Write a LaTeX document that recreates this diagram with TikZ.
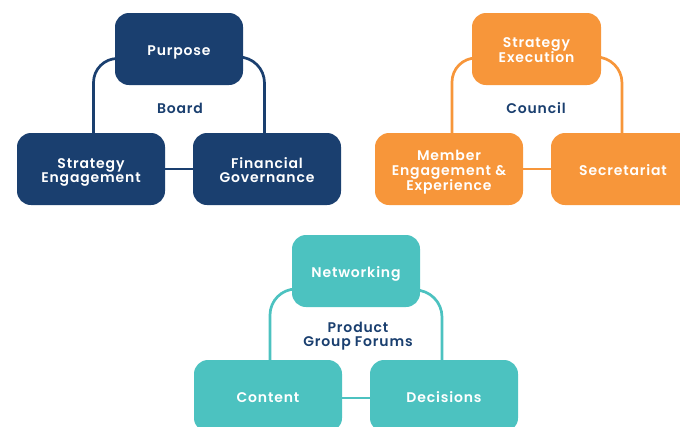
\documentclass[tikz,border=0pt]{standalone}
\usepackage{fontspec}
\IfFontExistsTF{Poppins SemiBold}{\setmainfont{Poppins SemiBold}[LetterSpace=6]}{\setmainfont{Poppins}[LetterSpace=6]}
\IfFontExistsTF{Poppins SemiBold}{\newfontfamily\lblfont{Poppins SemiBold}[LetterSpace=6]}{\newfontfamily\lblfont{Poppins}[LetterSpace=6]}
\usetikzlibrary{backgrounds}
\definecolor{navy}{HTML}{1A3F6F}
\definecolor{orng}{HTML}{F7963A}
\definecolor{teal}{HTML}{4CC2C0}
\newcommand\bt[1]{\raisebox{-3.5pt}[\height][\depth]{\begin{tabular}{@{}c@{}}#1\end{tabular}}}
\tikzset{
  box/.style={rounded corners=14pt, inner sep=0pt, text=white,
    font=\fontsize{14}{14}\selectfont, minimum height=72pt},
  navybox/.style={box, fill=navy},
  orngbox/.style={box, fill=orng},
  tealbox/.style={box, fill=teal},
  conn/.style={line width=2.7pt},
  lbl/.style={text=navy, align=center, font=\lblfont\fontsize{14}{13.5}\selectfont, inner sep=0pt}
}
\begin{document}
\begin{tikzpicture}[x=1pt,y=-1pt]
\path[use as bounding box] (0,0) rectangle (680,426);
\clip (0,0) rectangle (680,426);
% Board
\node[navybox, minimum width=128pt] (P) at (179,49) {\bt{Purpose}};
\node[navybox, minimum width=148pt] (SE) at (91,169) {\bt{Strategy\\Engagement}};
\node[navybox, minimum width=148pt] (FG) at (267,169) {\bt{Financial\\Governance}};
\node[lbl] (Lb) at (180,108) {Board};
% Council
\node[orngbox, minimum width=129pt] (SX) at (536.5,49) {\bt{Strategy\\Execution}};
\node[orngbox, minimum width=148pt] (ME) at (449,169) {\bt{Member\\Engagement \&\\Experience}};
\node[orngbox, minimum width=144pt] (SC) at (623,169) {\bt{Secretariat}};
\node[lbl] (Lc) at (536,108) {Council};
% Product
\node[tealbox, minimum width=128pt] (N) at (356,271) {\bt{Networking}};
\node[tealbox, minimum width=148pt] (C) at (268,396) {\bt{Content}};
\node[tealbox, minimum width=148pt] (D) at (444,396) {\bt{Decisions}};
\node[lbl] (Lp) at (358,336) {Product\\Group Forums};
\begin{pgfonlayer}{background}
\draw[conn, navy, rounded corners=24pt] ([yshift=-9.5pt]P.center) -| ([xshift=2.5pt]SE.center);
\draw[conn, navy, rounded corners=26pt] ([yshift=-8pt]P.center) -| ([xshift=-2.5pt]FG.center);
\draw[conn, navy] (SE) -- (FG);
\draw[conn, orng, rounded corners=24pt] ([yshift=-9pt]SX.center) -| ([xshift=3pt]ME.center);
\draw[conn, orng, rounded corners=26pt] ([yshift=-8pt]SX.center) -| ([xshift=-1pt]SC.center);
\draw[conn, orng] (ME) -- (SC);
\draw[conn, teal, rounded corners=26pt] ([yshift=-18pt]N.center) -| ([xshift=2pt]C.center);
\draw[conn, teal, rounded corners=27pt] ([yshift=-19pt]N.center) -| ([xshift=-2pt]D.center);
\draw[conn, teal] ([yshift=-2pt]C.center) -- ([yshift=-2pt]D.center);
\end{pgfonlayer}
\end{tikzpicture}
\end{document}
